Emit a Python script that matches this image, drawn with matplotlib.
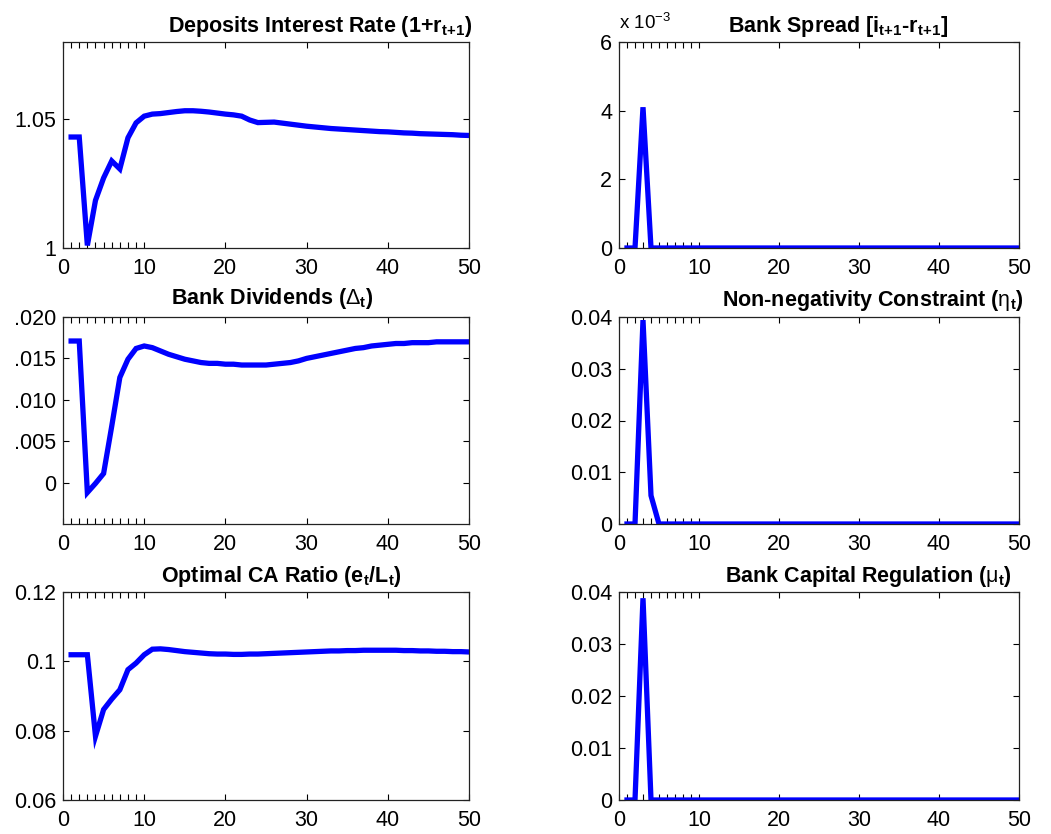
import matplotlib
matplotlib.use("Agg")
import matplotlib.pyplot as plt
from matplotlib.ticker import FixedLocator

plt.rcParams['font.family'] = ['Liberation Sans', 'DejaVu Sans']
plt.rcParams['mathtext.fontset'] = 'custom'
plt.rcParams['mathtext.rm'] = 'Liberation Sans'
plt.rcParams['mathtext.bf'] = 'Liberation Sans:bold'
plt.rcParams['mathtext.it'] = 'Liberation Sans:italic'

t = list(range(1, 51))

deposit_rate = [1.0431, 1.0431, 1.0010, 1.0185, 1.0272, 1.0338, 1.0307, 1.0428, 1.0486, 1.0512,
                1.0520, 1.0522, 1.0526, 1.0530, 1.0533, 1.0533, 1.0531, 1.0528, 1.0524, 1.0520,
                1.0517, 1.0512, 1.0497, 1.0487, 1.0488, 1.0489, 1.0485, 1.0481, 1.0477, 1.0473,
                1.0470, 1.0467, 1.0464, 1.0462, 1.0460, 1.0458, 1.0456, 1.0454, 1.0452, 1.0451,
                1.0449, 1.0447, 1.0446, 1.0444, 1.0443, 1.0442, 1.0441, 1.0440, 1.0438, 1.0437]

dividends = [0.0171, 0.0171, -0.0012, -0.0001, 0.0011, 0.0068, 0.0127, 0.0149, 0.0162, 0.0165,
             0.0163, 0.0159, 0.0155, 0.0152, 0.0149, 0.0147, 0.0145, 0.0144, 0.0144, 0.0143,
             0.0143, 0.0142, 0.0142, 0.0142, 0.0142, 0.0143, 0.0144, 0.0145, 0.0147, 0.0150,
             0.0152, 0.0154, 0.0156, 0.0158, 0.0160, 0.0162, 0.0163, 0.0165, 0.0166, 0.0167,
             0.0168, 0.0168, 0.0169, 0.0169, 0.0169, 0.0170, 0.0170, 0.0170, 0.0170, 0.0170]

ca_ratio = [0.1019, 0.1019, 0.1019, 0.0784, 0.0861, 0.0891, 0.0918, 0.0976, 0.0995, 0.1019,
            0.1035, 0.1036, 0.1034, 0.1031, 0.1028, 0.1026, 0.1024, 0.1022, 0.1021, 0.1021,
            0.1020, 0.1020, 0.1021, 0.1021, 0.1022, 0.1023, 0.1024, 0.1025, 0.1026, 0.1027,
            0.1028, 0.1029, 0.1030, 0.1030, 0.1031, 0.1031, 0.1032, 0.1032, 0.1032, 0.1032,
            0.1032, 0.1031, 0.1031, 0.1030, 0.1030, 0.1029, 0.1029, 0.1028, 0.1028, 0.1027]

bank_spread = [0.0, 0.0, 0.0041, 0.0] + [0.0] * 46
eta = [0.0, 0.0, 0.0394, 0.0055, 0.0] + [0.0] * 45
mu = [0.0, 0.0, 0.0388, 0.0] + [0.0] * 46

W, H = 1051, 834
fig = plt.figure(figsize=(W / 100, H / 100), dpi=100)

BLUE = (0, 0, 1)
TICK_FS = 15.5
TITLE_FS = 15.5
LW = 3.8

def make_ax(px_left, px_top, px_right, px_bottom):
    return fig.add_axes([px_left / W, 1 - px_bottom / H,
                         (px_right - px_left) / W, (px_bottom - px_top) / H])

def style(ax, ylim, yticks, ylabels):
    ax.set_xlim(0, 50)
    ax.set_ylim(*ylim)
    ax.set_xticks([0, 10, 20, 30, 40, 50])
    ax.set_xticklabels(['0', '10', '20', '30', '40', '50'])
    ax.xaxis.set_minor_locator(FixedLocator(list(range(1, 10))))
    ax.set_yticks(yticks)
    ax.set_yticklabels(ylabels)
    ax.tick_params(which='both', direction='in', top=True, right=True,
                   length=4, width=0.8, labelsize=TICK_FS)
    ax.tick_params(axis='x', which='major', pad=7)
    ax.tick_params(axis='y', which='major', pad=5)
    ax.tick_params(axis='y', which='minor', length=0)
    for s in ax.spines.values():
        s.set_linewidth(0.9)
        s.set_color('#222222')

# positions (pixels)
L1, R1 = 63, 469
L2, R2 = 619, 1019
rows = [(42, 248), (317, 524), (592, 800)]

ax1 = make_ax(L1, rows[0][0], R1, rows[0][1])
ax1.plot(t, deposit_rate, color=BLUE, lw=LW, solid_joinstyle='miter')
style(ax1, (1.0, 1.08), [1.0, 1.05], ['1', '1.05'])

ax2 = make_ax(L1, rows[1][0], R1, rows[1][1])
ax2.plot(t, dividends, color=BLUE, lw=LW, solid_joinstyle='miter')
style(ax2, (-0.005, 0.020), [0, 0.005, 0.010, 0.015, 0.020],
      ['0', '.005', '.010', '.015', '.020'])

ax3 = make_ax(L1, rows[2][0], R1, rows[2][1])
ax3.plot(t, ca_ratio, color=BLUE, lw=LW, solid_joinstyle='miter')
style(ax3, (0.06, 0.12), [0.06, 0.08, 0.10, 0.12], ['0.06', '0.08', '0.1', '0.12'])

ax4 = make_ax(L2, rows[0][0], R2, rows[0][1])
ax4.plot(t, bank_spread, color=BLUE, lw=LW, solid_joinstyle='miter')
style(ax4, (0, 0.006), [0, 0.002, 0.004, 0.006], ['0', '2', '4', '6'])
ax4.text(0.0, 1.045, r'x 10$^{-3}$', transform=ax4.transAxes, fontsize=13.5,
         ha='left', va='bottom')

ax5 = make_ax(L2, rows[1][0], R2, rows[1][1])
ax5.plot(t, eta, color=BLUE, lw=LW, solid_joinstyle='miter')
style(ax5, (0, 0.04), [0, 0.01, 0.02, 0.03, 0.04], ['0', '0.01', '0.02', '0.03', '0.04'])

ax6 = make_ax(L2, rows[2][0], R2, rows[2][1])
ax6.plot(t, mu, color=BLUE, lw=LW, solid_joinstyle='miter')
style(ax6, (0, 0.04), [0, 0.01, 0.02, 0.03, 0.04], ['0', '0.01', '0.02', '0.03', '0.04'])

titles = [
    (320, 32, r'Deposits Interest Rate (1+r$_{\mathbf{t{+}1}}$)'),
    (272, 304, r'Bank Dividends ($\mathrm{\Delta}$$_{\mathbf{t}}$)'),
    (281, 582, r'Optimal CA Ratio (e$_{\mathbf{t}}$/L$_{\mathbf{t}}$)'),
    (838, 32, r'Bank Spread [i$_{\mathbf{t{+}1}}$-r$_{\mathbf{t{+}1}}$]'),
    (873, 306, r'Non-negativity Constraint ($\mathrm{\eta}$$_{\mathbf{t}}$)'),
    (868, 582, r'Bank Capital Regulation ($\mathrm{\mu}$$_{\mathbf{t}}$)'),
]
for cx, by, txt in titles:
    fig.text(cx / W, 1 - by / H, txt, ha='center', va='baseline',
             fontsize=TITLE_FS, fontweight='bold')

fig.savefig('out.png', dpi=100)
